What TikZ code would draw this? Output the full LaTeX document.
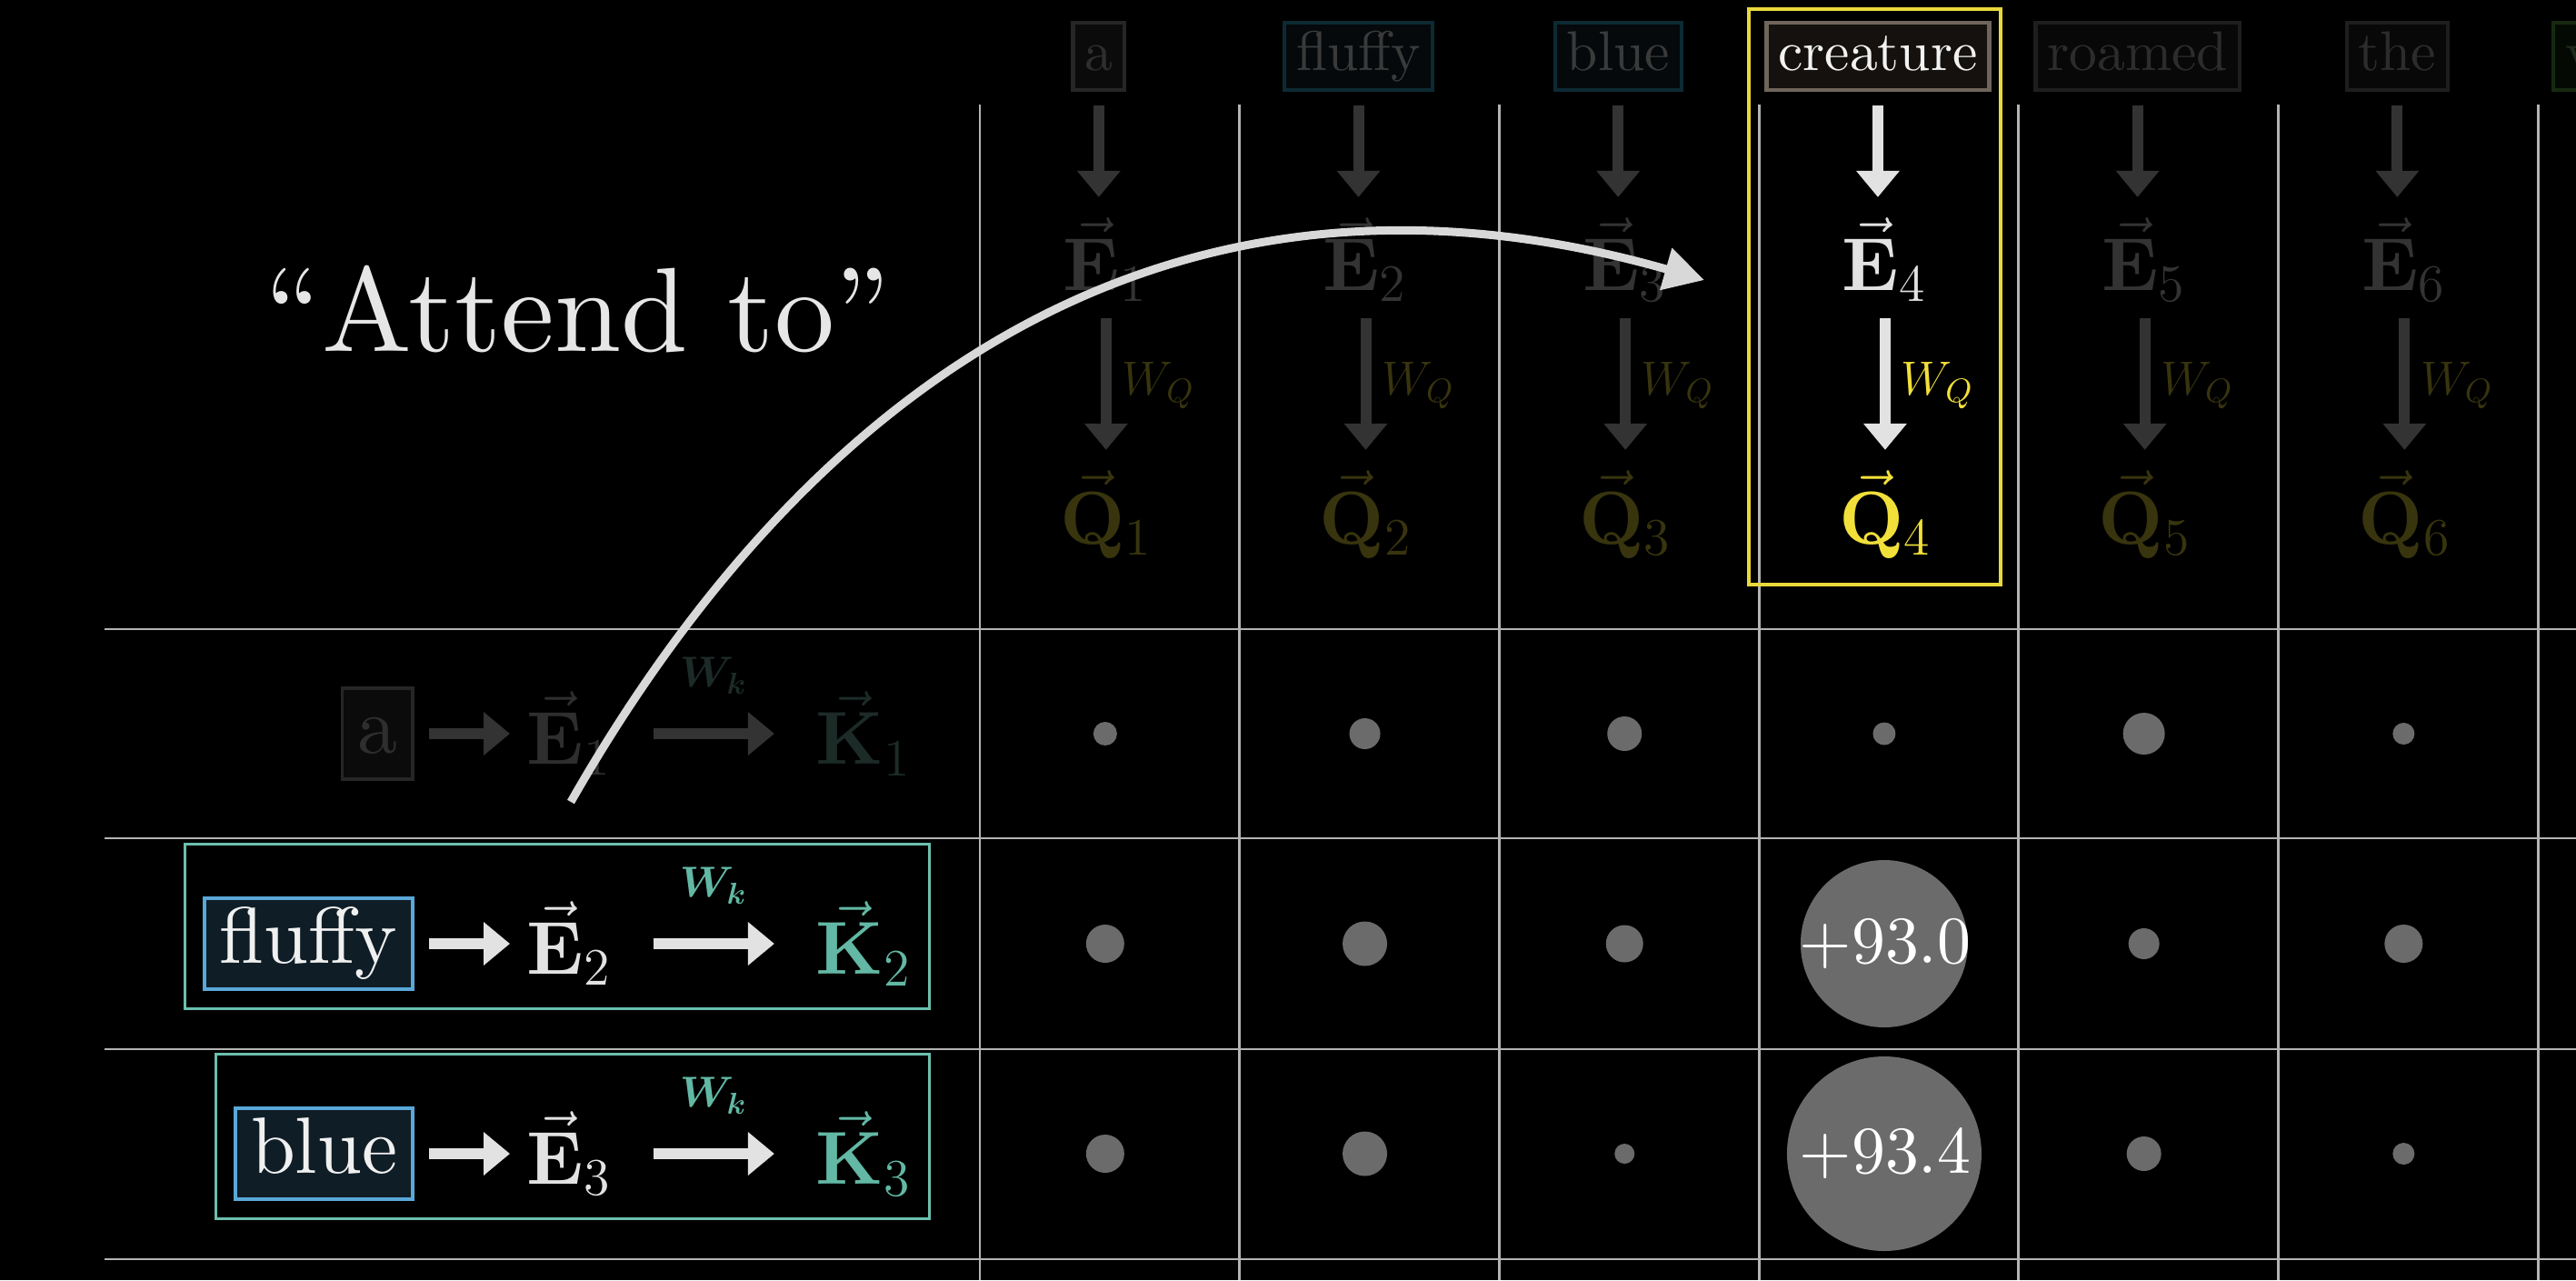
\RequirePackage{fix-cm}
\documentclass[tikz,border=0pt]{standalone}
\usepackage{amsmath}
\usepackage{bm}
\usepackage{fontspec}
\setmainfont{lmroman10-regular.otf}[BoldFont=lmroman10-bold.otf, ItalicFont=lmroman10-italic.otf,
  BoldItalicFont=lmroman10-bolditalic.otf]
\usetikzlibrary{arrows.meta,positioning,fit}

\definecolor{gridgray}{HTML}{B4B4B4}
\definecolor{dotgray}{HTML}{6B6B6B}
\definecolor{selyellow}{HTML}{E9D83C}
\definecolor{frameteal}{HTML}{6CBFAE}
\definecolor{wordblue}{HTML}{5AA8D8}
\definecolor{wordfill}{HTML}{0F1D26}
\definecolor{arrowwhite}{HTML}{D8D8D8}
\definecolor{attendwhite}{HTML}{E6E6E6}

\tikzset{
  topword/.style={draw, line width=1.2pt, inner xsep=0.13cm, inner ysep=0.08cm,
    text height=12.6pt, text depth=3.9pt, font=\fontsize{17.5}{20}\selectfont},
  keyword/.style={draw=wordblue, fill=wordfill, line width=1pt, inner xsep=0.17cm,
    inner ysep=0.085cm, text height=18pt, text depth=5.5pt, font=\fontsize{25}{28}\selectfont},
  vecnode/.style={inner sep=0pt, font=\fontsize{23.5}{26}\selectfont},
  wqlabel/.style={font=\fontsize{15}{17}\selectfont},
  wklabel/.style={inner xsep=0.05cm, inner ysep=0pt, font=\fontsize{13.5}{15}\selectfont},
  fatarrow/.style={line width=0.12cm, -{Triangle[length=0.29cm,width=0.46cm]}},
  bigarrow/.style={draw=arrowwhite, line width=0.09cm, -{Triangle[length=0.44cm,width=0.46cm]}},
  gridline/.style={gridgray, line width=0.8pt},
  keyframe/.style={draw=frameteal, line width=0.9pt, inner sep=0.2cm},
  scorenum/.style={text=white, font=\fontsize{21}{24}\selectfont},
  attendtext/.style={text=attendwhite, font=\fontsize{37.5}{41}\selectfont}
}

\begin{document}
\begin{tikzpicture}
	\fill[black] (0,0) rectangle (28.34,-14.08);
	\useasboundingbox (0,0) rectangle (28.34,-14.08);
	% grid
	\foreach \y in {6.92,9.22,11.54,13.85}
		\draw[gridline] (1.15,-\y) -- (28.34,-\y);
	\foreach \k in {0,...,6}
		\draw[gridline] ({10.78+2.857*\k},-1.15) -- ({10.78+2.857*\k},-14.08);
	% query columns
	\foreach \col/\word/\wt/\wl/\wf/\ec/\qc in {1/a/2E2E2E/262626/0B0B0B/333333/38340E,
			2/fluffy/3A3A3A/0D2A33/05090B/333333/38340E, 3/blue/3A3A3A/0D2A33/05090B/333333/38340E,
			4/creature/F2F2F2/6F655B/14110E/E2E2E2/F2E03A, 5/roamed/2C2C2C/1E1E1E/080808/333333/38340E,
			6/the/2C2C2C/1E1E1E/080808/333333/38340E}{
		\pgfmathsetmacro\cx{10.78+2.857*(\col-0.5)}
		\definecolor{wt}{HTML}{\wt}
		\definecolor{wl}{HTML}{\wl}
		\definecolor{wf}{HTML}{\wf}
		\definecolor{ec}{HTML}{\ec}
		\definecolor{qc}{HTML}{\qc}
		\node[topword, draw=wl, fill=wf, text=wt] (w\col) at (\cx-0.12,-0.62) {\word};
		\node[vecnode, text=ec] (e\col) at (\cx-0.05,-2.855) {$\vec{\mathbf{E}}_{\col}$};
		\node[vecnode, text=qc] (q\col) at (\cx-0.04,-5.66) {$\vec{\mathbf{Q}}_{\col}$};
		\draw[fatarrow, ec, shorten <=0.15cm, shorten >=0.22cm] (w\col.south) -- (w\col.south |- e\col.north);
		\draw[fatarrow, ec, shorten <=0.18cm, shorten >=0.22cm] (e\col.south -| q\col.north) -- (q\col.north)
			node[midway, right, wqlabel, text=qc] (wq\col) {$W_Q$};
	}
	\node[topword, draw={rgb,255:red,23;green,41;blue,16}, fill={rgb,255:red,5;green,9;blue,4},
		text={rgb,255:red,31;green,42;blue,26}] (w7) at (29.24,-0.62) {verdant};
	\draw[selyellow, line width=1.1pt] (19.24,-0.10) rectangle (22.01,-6.43);
	% key rows
	\foreach \row/\y/\word/\wl/\wf/\wt/\ac/\ec/\kc in {1/-8.07/a/262626/0B0B0B/2E2E2E/333333/2E2E2E/1C2B28,
			2/-10.38/fluffy/5AA8D8/0F1D26/F0F0F0/E2E2E2/E2E2E2/62B8A4,
			3/-12.69/blue/5AA8D8/0F1D26/F0F0F0/E2E2E2/E2E2E2/62B8A4}{
		\definecolor{wl}{HTML}{\wl}
		\definecolor{wf}{HTML}{\wf}
		\definecolor{wt}{HTML}{\wt}
		\definecolor{ac}{HTML}{\ac}
		\definecolor{ec}{HTML}{\ec}
		\definecolor{kc}{HTML}{\kc}
		\node[keyword, draw=wl, fill=wf, text=wt, anchor=east] (kw\row) at (4.56,\y) {\word};
		\node[vecnode, right=1.23cm of kw\row, text=ec] (ke\row) {$\vec{\mathbf{E}}_{\row}$};
		\node[vecnode, right=2.24cm of ke\row, text=kc] (kk\row) {$\vec{\mathbf{K}}_{\row}$};
		\draw[fatarrow, ac, shorten <=0.16cm, shorten >=0.18cm] (kw\row) -- (ke\row);
		\draw[fatarrow, ac, shorten <=0.46cm, shorten >=0.45cm] (ke\row) -- (kk\row)
			node[midway, above=0.38cm, wklabel, text=kc] (wk\row) {$\bm{W_k}$};
	}
	\node[keyframe, fit=(kw2)(kk2)(wk2)] (frame2) {};
	\node[keyframe, fit=(kw3)(kk3)(wk3)] (frame3) {};
	% attention dots
	\foreach \col/\ra/\rb/\rc in {1/0.13/0.21/0.21, 2/0.17/0.245/0.245, 3/0.19/0.205/0.11,
			4/0.125/0.92/1.07, 5/0.23/0.17/0.19, 6/0.12/0.21/0.12}{
		\pgfmathsetmacro\cx{10.78+2.857*(\col-0.5)-0.05}
		\fill[dotgray] (\cx,-8.07) circle (\ra);
		\fill[dotgray] (\cx,-10.38) circle (\rb);
		\fill[dotgray] (\cx,-12.69) circle (\rc);
	}
	\node[scorenum] (score2) at (20.74,-10.38) {+93.0};
	\node[scorenum] (score3) at (20.74,-12.69) {+93.4};
	% attend to
	\node[attendtext] (attend) at (6.36,-3.40) {``Attend to''};
	\coordinate (atail) at (6.28,-8.82);
	\draw[bigarrow] (atail) .. controls +(2.8,4.9) and +(-5.6,1.6) .. ([shift={(-1.51,-0.225)}]e4.west);
\end{tikzpicture}
\end{document}
